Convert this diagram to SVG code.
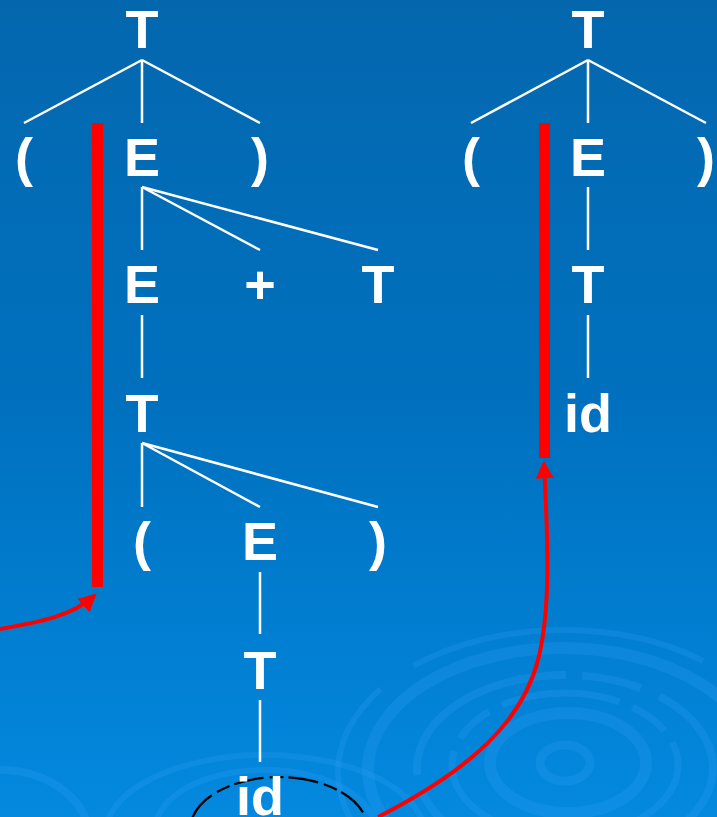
<svg xmlns="http://www.w3.org/2000/svg" width="717" height="817" viewBox="0 0 717 817">
<defs>
<linearGradient id="bg" x1="0" y1="0" x2="0" y2="1">
<stop offset="0" stop-color="#0467ae"/>
<stop offset="0.5" stop-color="#0071bf"/>
<stop offset="1" stop-color="#0389df"/>
</linearGradient>
<marker id="ah" viewBox="0 0 10 10" refX="8" refY="5" markerWidth="4.5" markerHeight="4.5" orient="auto" markerUnits="strokeWidth">
<path d="M0,0 L10,5 L0,10 z" fill="#ff0000"/>
</marker>
<style>
.lbl{font-family:"Liberation Sans",Arial,sans-serif;font-weight:bold;font-size:54px;fill:#ffffff;text-anchor:middle}
.edge{stroke:#ffffff;stroke-width:2.5;fill:none}
.ring{fill:none;stroke:#3aa6ff;stroke-opacity:0.2}
.bar{fill:#ff0000}
.red{stroke:#ff0000;stroke-width:4;fill:none}
</style>
</defs>
<rect width="717" height="817" fill="url(#bg)"/>
<g id="ripples">
<ellipse class="ring" cx="565" cy="763" rx="25" ry="18" stroke-width="9" stroke-opacity="0.12"/>
<ellipse class="ring" cx="568" cy="763" rx="78" ry="50" stroke-width="12" stroke-opacity="0.14"/>
<ellipse class="ring" cx="565" cy="765" rx="113" ry="72" stroke-width="7" stroke-dasharray="120 14 40 14"/>
<ellipse class="ring" cx="565" cy="768" rx="148" ry="93" stroke-width="8" stroke-dasharray="60 20 200 16"/>
<ellipse class="ring" cx="563" cy="770" rx="195" ry="122" stroke-width="12" stroke-opacity="0.16"/>
<ellipse class="ring" cx="563" cy="772" rx="225" ry="142" stroke-width="6" stroke-dasharray="160 40 300 20" stroke-opacity="0.15"/>
<ellipse class="ring" cx="265" cy="830" rx="110" ry="60" stroke-width="6" stroke-opacity="0.1"/>
<ellipse class="ring" cx="265" cy="835" rx="160" ry="80" stroke-width="6" stroke-opacity="0.08"/>
<ellipse class="ring" cx="0" cy="840" rx="90" ry="70" stroke-width="8" stroke-opacity="0.08"/>
</g>
<g id="connectors">
<path class="edge" d="M142,60 L24,123 M142,60 L142,123 M142,60 L260,123"/>
<path class="edge" d="M142,187 L142,250 M142,187 L260,250 M142,187 L378,250"/>
<path class="edge" d="M142,315 L142,378"/>
<path class="edge" d="M142,443 L142,507 M142,443 L260,507 M142,443 L378,507"/>
<path class="edge" d="M260,572 L260,634"/>
<path class="edge" d="M260,700 L260,762"/>
<path class="edge" d="M588,60 L471,123 M588,60 L588,123 M588,60 L706,123"/>
<path class="edge" d="M588,187 L588,250"/>
<path class="edge" d="M588,315 L588,378"/>
</g>
<g id="highlight">
<rect class="bar" x="92" y="123" width="11" height="464"/>
<rect class="bar" x="539" y="123" width="11" height="335"/>
<ellipse cx="279" cy="830" rx="89" ry="53" fill="none" stroke="#000000" stroke-width="2.2" stroke-dasharray="14 5 30 6"/>
<path class="red" d="M0,629 C40,622 72,616 94,596" marker-end="url(#ah)"/>
<path class="red" d="M378,817 C470,770 522,722 538,660 C551,610 548,540 544,464" marker-end="url(#ah)"/>
</g>
<g id="n1"><text class="lbl" x="142" y="48">T</text></g>
<g id="n2"><text class="lbl" x="24" y="176">(</text></g>
<g id="n3"><text class="lbl" x="142" y="176">E</text></g>
<g id="n4"><text class="lbl" x="260" y="176">)</text></g>
<g id="n5"><text class="lbl" x="142" y="303">E</text></g>
<g id="n6"><text class="lbl" x="260" y="303">+</text></g>
<g id="n7"><text class="lbl" x="378" y="303">T</text></g>
<g id="n8"><text class="lbl" x="142" y="432">T</text></g>
<g id="n9"><text class="lbl" x="142" y="560">(</text></g>
<g id="n10"><text class="lbl" x="260" y="560">E</text></g>
<g id="n11"><text class="lbl" x="378" y="560">)</text></g>
<g id="n12"><text class="lbl" x="260" y="689">T</text></g>
<g id="n13"><text class="lbl" x="260" y="815">id</text></g>
<g id="m1"><text class="lbl" x="588" y="48">T</text></g>
<g id="m2"><text class="lbl" x="471" y="176">(</text></g>
<g id="m3"><text class="lbl" x="588" y="176">E</text></g>
<g id="m4"><text class="lbl" x="706" y="176">)</text></g>
<g id="m5"><text class="lbl" x="588" y="303">T</text></g>
<g id="m6"><text class="lbl" x="588" y="432">id</text></g>
</svg>
